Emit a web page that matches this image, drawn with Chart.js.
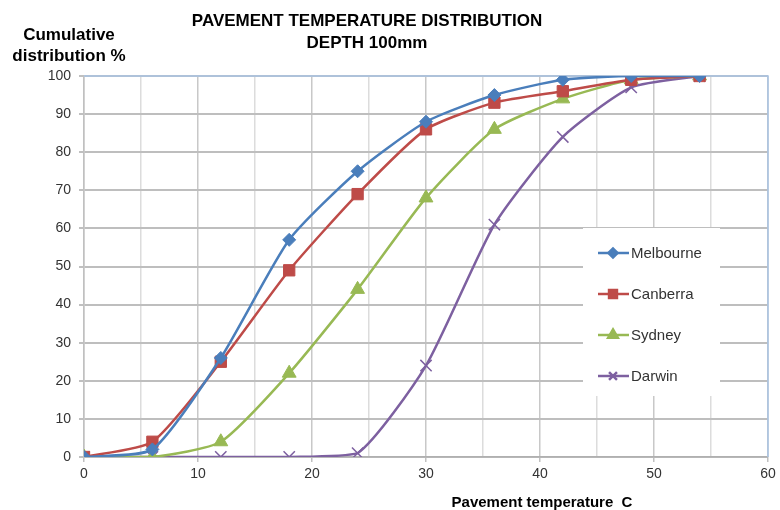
<!DOCTYPE html>
<html>
<head>
<meta charset="utf-8">
<script src="https://cdn.jsdelivr.net/npm/chart.js@4"></script>
<style>
  html, body { margin: 0; padding: 0; background: #fff; }
  #wrap { width: 780px; height: 510px; position: relative; }
</style>
</head>
<body>
<div id="wrap"><canvas id="chart" width="780" height="510"></canvas></div>
<script>
// values
var temps = [0, 6, 12, 18, 24, 30, 36, 42, 48, 54];
var melbourne = [0, 2, 26, 57, 75, 88, 95, 99, 100, 100];
var canberra = [0, 4, 25, 49, 69, 86, 93, 96, 99, 100];
var sydney = [0, 0, 4, 22, 44, 68, 86, 94, 99, 100];
var darwin = [0, 0, 0, 0, 1, 24, 61, 84, 97, 100];

var seriesNames = ['Melbourne', 'Canberra', 'Sydney', 'Darwin'];
var seriesColors = ['#4A7EBB', '#BE4B48', '#98B954', '#7D60A0'];
var seriesMarkers = ['rectRot', 'rect', 'triangle', 'crossRot'];
var markerSizes = [6.5, 8, 8, 8];

function toPoints(vals) {
    return vals.map(function(v, i) { return { x: temps[i], y: v }; });
}

var datasets = [melbourne, canberra, sydney, darwin].map(function(vals, i) {
    return {
        label: seriesNames[i],
        data: toPoints(vals),
        borderColor: seriesColors[i],
        backgroundColor: seriesColors[i],
        pointStyle: seriesMarkers[i],
        pointRadius: markerSizes[i],
        pointBorderWidth: i == 3 ? 1.5 : 1,
        borderWidth: 2.5,
        tension: 0.2
    };
});

var textPlugin = {
    id: 'texts',
    afterDraw: function(chart) {
        var ctx = chart.ctx;
        ctx.save();
        ctx.fillStyle = '#000';
        ctx.textBaseline = 'alphabetic';
        ctx.font = 'bold 17px "Liberation Sans", Arial, sans-serif';
        ctx.textAlign = 'center';
        ctx.fillText('PAVEMENT TEMPERATURE DISTRIBUTION', 367, 26);
        ctx.fillText('DEPTH 100mm', 367, 48);
        ctx.fillText('Cumulative', 69, 40);
        ctx.fillText('distribution %', 69, 61);
        ctx.font = 'bold 15px "Liberation Sans Narrow", "Liberation Sans", Arial, sans-serif';
        ctx.fillText('Pavement temperature  C', 542, 507);

        // legend box
        ctx.fillStyle = '#fff';
        ctx.fillRect(583, 228, 137, 168);
        var rows = [253, 294, 335, 376];
        chart.data.datasets.forEach(function(ds, i) {
            var y = rows[i];
            ctx.strokeStyle = ds.borderColor;
            ctx.lineWidth = 2.5;
            ctx.beginPath();
            ctx.moveTo(598, y);
            ctx.lineTo(629, y);
            ctx.stroke();
            ctx.fillStyle = ds.backgroundColor;
            Chart.helpers.drawPoint(ctx, {
                pointStyle: ds.pointStyle,
                radius: ds.pointRadius * 0.7,
                rotation: 0,
                borderWidth: ds.pointBorderWidth
            }, 613, y);
            ctx.fillStyle = '#333';
            ctx.textAlign = 'left';
            ctx.textBaseline = 'middle';
            ctx.font = '15px "Liberation Sans", Arial, sans-serif';
            ctx.fillText(ds.label, 631, y + 1);
        });
        ctx.restore();
    }
};

var borderPlugin = {
    id: 'plotBorder',
    beforeDatasetsDraw: function(chart) {
        var a = chart.chartArea;
        var ctx = chart.ctx;
        ctx.save();
        ctx.strokeStyle = '#A9C4E4';
        ctx.lineWidth = 1.5;
        ctx.beginPath();
        ctx.moveTo(a.left, a.top);
        ctx.lineTo(a.right, a.top);
        ctx.lineTo(a.right, a.bottom);
        ctx.stroke();
        ctx.restore();
    }
};

new Chart(document.getElementById('chart'), {
    type: 'line',
    data: { datasets: datasets },
    plugins: [borderPlugin, textPlugin],
    options: {
        responsive: false,
        animation: false,
        layout: { padding: { top: 76, right: 12, bottom: 30, left: 0 } },
        plugins: {
            legend: { display: false },
            title: { display: false },
            tooltip: { enabled: false }
        },
        scales: {
            x: {
                type: 'linear',
                min: 0,
                max: 60,
                ticks: {
                    stepSize: 5,
                    autoSkip: false,
                    maxRotation: 0,
                    color: '#333',
                    font: { size: 14, family: '"Liberation Sans", Arial, sans-serif' },
                    padding: 4,
                    callback: function(v) { return v % 10 == 0 ? v : ''; }
                },
                grid: {
                    color: function(c) { return c.tick && c.tick.value % 10 == 0 ? '#C8C8C8' : '#DCDCDC'; },
                    lineWidth: 1.5,
                    tickLength: 5,
                    tickColor: function(c) { return c.tick && c.tick.value % 10 == 0 ? '#C0C0C0' : 'rgba(0,0,0,0)'; }
                },
                border: { color: '#B0B0B0', width: 1.5 },
                afterFit: function(s) { s.height = 23; }
            },
            y: {
                min: 0,
                max: 100,
                ticks: {
                    stepSize: 10,
                    color: '#333',
                    font: { size: 14, family: '"Liberation Sans", Arial, sans-serif' },
                    padding: 8
                },
                grid: {
                    color: '#BEBEBE',
                    lineWidth: 2,
                    tickLength: 5,
                    tickColor: '#C0C0C0'
                },
                border: { color: '#C0C0C0', width: 1.5 },
                afterFit: function(s) { s.width = 84; }
            }
        }
    }
});
</script>
</body>
</html>
